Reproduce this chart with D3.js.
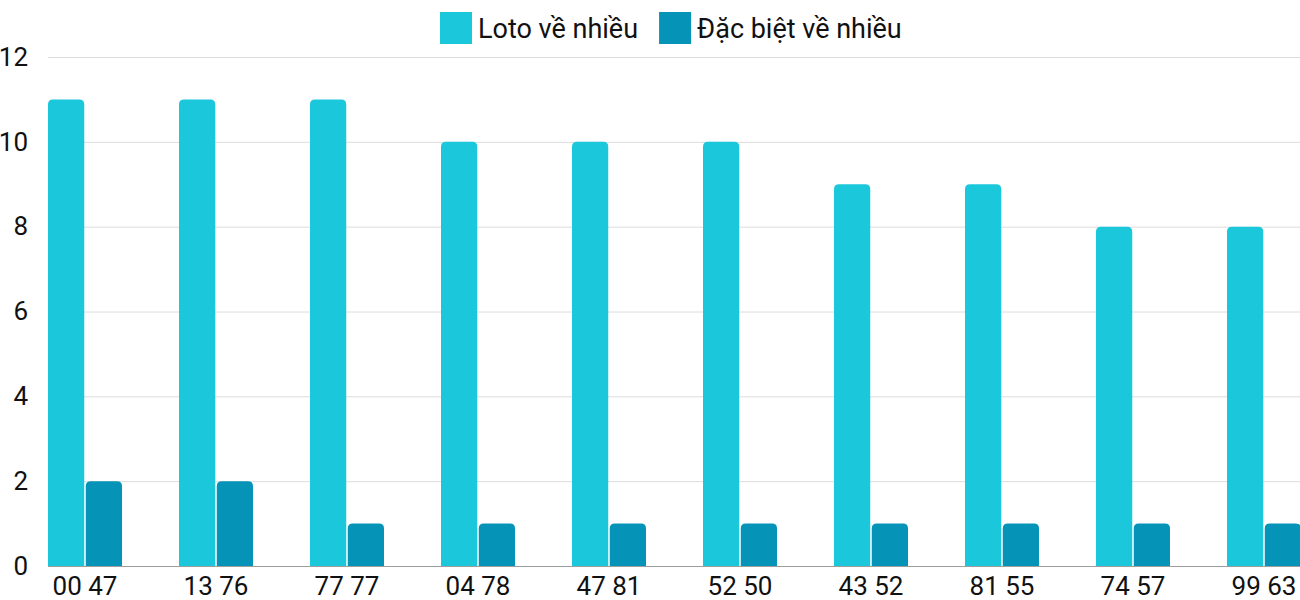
<!DOCTYPE html>
<html>
<head>
<meta charset="utf-8">
<title></title>
<script src="https://d3js.org/d3.v7.min.js" charset="utf-8"></script>
<style>
    body { margin: 0; background: #fff; }
    text { font-family: Roboto, "Noto Sans", sans-serif; fill: #111; }
    .grid line { stroke: #dcdcdc; }
    .tick text { font-size: 26px; }
</style>
</head>
<body>
<div id="vis"></div>
<script>

    // data
    var categories = ["00 47", "13 76", "77 77", "04 78", "47 81", "52 50", "43 52", "81 55", "74 57", "99 63"];
    var seriesNames = ["Loto về nhiều", "Đặc biệt về nhiều"];
    var loto = [11, 11, 11, 10, 10, 10, 9, 9, 8, 8];
    var dacBiet = [2, 2, 1, 1, 1, 1, 1, 1, 1, 1];
    var yTicks = [0, 2, 4, 6, 8, 10, 12];
    var colors = ["#1bc8db", "#0594b7"];

    var width = 1300, height = 600;
    var margin = {top: 57, right: 0, bottom: 34, left: 48};

    var svg = d3.select("#vis").append("svg")
            .attr("width", width)
            .attr("height", height);

    var x = d3.scaleBand()
            .domain(categories)
            .range([margin.left, 1301])
            .paddingInner(0.435)
            .paddingOuter(0)
            .align(0);

    var xInner = d3.scaleBand()
            .domain([0, 1])
            .range([0, x.bandwidth()])
            .paddingInner(0.04);

    var y = d3.scaleLinear()
            .domain([0, 12])
            .range([height - margin.bottom, margin.top]);

    // gridlines
    var grid = svg.append("g").attr("class", "grid");
    grid.selectAll("line").data(yTicks.slice(1)).enter().append("line")
            .attr("x1", margin.left)
            .attr("x2", width)
            .attr("y1", function(d){ return y(d) + 0.5; })
            .attr("y2", function(d){ return y(d) + 0.5; });

    // y axis labels
    var yAxis = svg.append("g")
            .attr("transform", "translate(" + 28 + ",0)")
            .call(d3.axisLeft(y).tickValues(yTicks).tickSize(0).tickPadding(0));
    yAxis.select(".domain").remove();

    // bars, rounded on top only
    function barPath(x0, y0, w, h, r) {
        r = Math.min(r, h, w / 2);
        return "M" + x0 + "," + (y0 + h) +
               "V" + (y0 + r) +
               "Q" + x0 + "," + y0 + " " + (x0 + r) + "," + y0 +
               "H" + (x0 + w - r) +
               "Q" + (x0 + w) + "," + y0 + " " + (x0 + w) + "," + (y0 + r) +
               "V" + (y0 + h) + "Z";
    }

    var rows = categories.map(function(c, i){ return {cat: c, vals: [loto[i], dacBiet[i]]}; });

    var groups = svg.append("g").selectAll("g").data(rows).enter().append("g")
            .attr("transform", function(d){ return "translate(" + x(d.cat) + ",0)"; });

    groups.selectAll("path").data(function(d){ return d.vals; }).enter().append("path")
            .attr("fill", function(d, i){ return colors[i]; })
            .attr("d", function(d, i){
                return barPath(xInner(i), y(d), xInner.bandwidth(), y(0) - y(d), 5);
            });

    // x axis
    svg.append("line")
            .attr("x1", margin.left).attr("x2", width)
            .attr("y1", y(0) + 0.5).attr("y2", y(0) + 0.5)
            .attr("stroke", "#9e9e9e");

    var xAxis = svg.append("g")
            .attr("transform", "translate(0," + y(0) + ")")
            .call(d3.axisBottom(x).tickSize(0).tickPadding(11));
    xAxis.select(".domain").remove();
    xAxis.selectAll(".tick text").attr("dy", "0.71em");
    xAxis.selectAll(".tick").attr("transform", function(d){
        return "translate(" + (x(d) + x.bandwidth() / 2) + ",0)";
    });

    // legend
    var legend = svg.append("g").attr("transform", "translate(440,12)");
    var items = legend.selectAll("g").data(seriesNames).enter().append("g");
    items.append("rect")
            .attr("width", 32).attr("height", 32)
            .attr("fill", function(d, i){ return colors[i]; });
    items.append("text")
            .attr("x", 38).attr("y", 17).attr("dy", "0.35em")
            .style("font-size", "27px")
            .text(function(d){ return d; });
    var offset = 0;
    items.each(function(){
        var g = d3.select(this);
        g.attr("transform", "translate(" + offset + ",0)");
        offset += 38 + g.select("text").node().getComputedTextLength() + 21;
    });

</script>
</body>
</html>
